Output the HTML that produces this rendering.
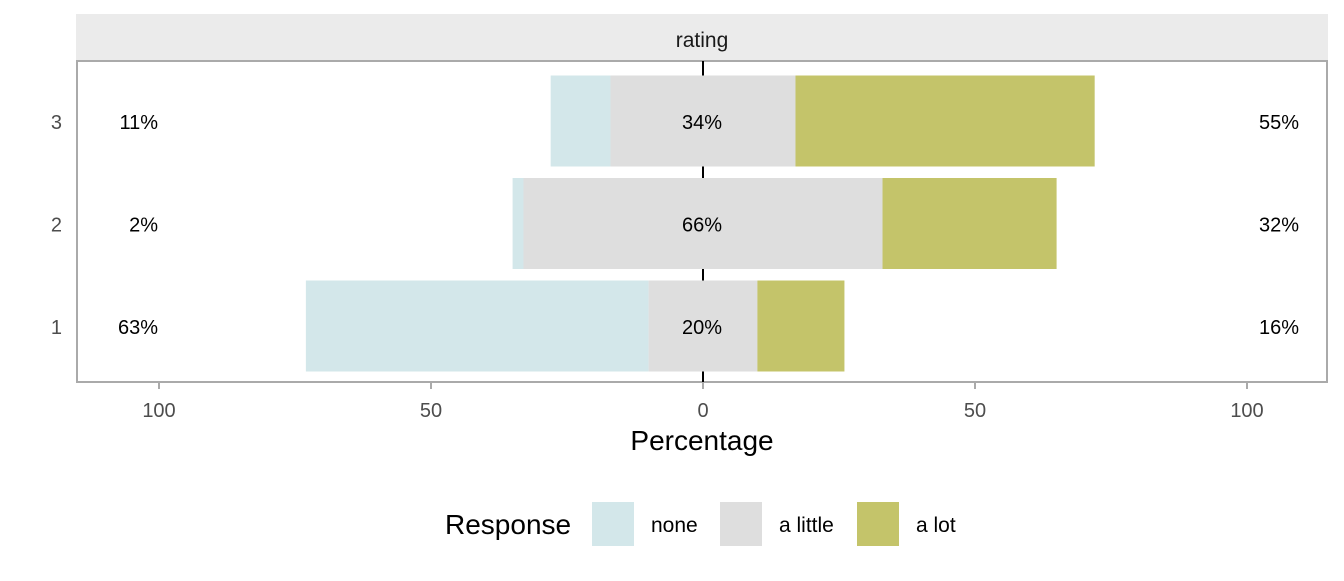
<!DOCTYPE html>
<html><head><meta charset="utf-8"><style>
body{margin:0;background:#fff;font-family:"Liberation Sans",sans-serif}
</style></head><body>
<svg width="1344" height="576" xmlns="http://www.w3.org/2000/svg" font-family="Liberation Sans, sans-serif">
<rect x="76" y="14" width="1252" height="46" fill="#ebebeb"/>
<text x="702" y="47" font-size="21" text-anchor="middle" fill="#1a1a1a">rating</text>
<rect x="77" y="61" width="1250" height="321" fill="#fff" stroke="#aaa" stroke-width="2"/>
<g id="bars"></g>
<g id="axis"></g>
<text x="702" y="450" font-size="28" text-anchor="middle" fill="#000">Percentage</text>
<g>
<text x="445" y="534" font-size="28" fill="#000">Response</text>
<rect x="592" y="502" width="42" height="44" fill="#d3e7ea"/>
<text x="651" y="532" font-size="21">none</text>
<rect x="720" y="502" width="42" height="44" fill="#dedede"/>
<text x="779" y="532" font-size="21">a little</text>
<rect x="857" y="502" width="42" height="44" fill="#c4c46a"/>
<text x="916" y="532" font-size="21">a lot</text>
</g>
</svg>
<script>
const categories=["1","2","3"];
const noneVals=[63,2,11];
const littleVals=[20,66,34];
const lotVals=[16,32,55];
const xTicks=[-100,-50,0,50,100];
const xTickLabels=["100","50","0","50","100"];
const NS="http://www.w3.org/2000/svg";
const x=v=>703+v*5.44;
const yc=i=>326-i*102.5;
const bars=document.getElementById('bars');
const axis=document.getElementById('axis');
function mk(tag,attrs,parent){const e=document.createElementNS(NS,tag);for(const k in attrs)e.setAttribute(k,attrs[k]);parent.appendChild(e);return e;}
const zl=mk('line',{x1:x(0),x2:x(0),y1:61,y2:382,stroke:'#000','stroke-width':2},bars);


categories.forEach((c,i)=>{
  const h=91,top=yc(i)-h/2,n=noneVals[i],l=littleVals[i],t=lotVals[i];
  const segs=[[-(n+l/2),-l/2,'#d3e7ea','none'],[-l/2,l/2,'#dedede','a-little'],[l/2,l/2+t,'#c4c46a','a-lot']];
  segs.forEach(s=>{
    const r=mk('rect',{x:x(s[0]),y:top,width:x(s[1])-x(s[0]),height:h,fill:s[2]},bars);
    
    
  });
  const lab=[[158,n+'%','left-pct','end'],[702,l+'%','center-pct','middle'],[1299,t+'%','right-pct','end']];
  lab.forEach(a=>{
    const tx=mk('text',{x:a[0],y:yc(i)+8,'font-size':20,'text-anchor':a[3],fill:'#000'},bars);
    tx.textContent=a[1];
    
    
  });
  const yl=mk('text',{x:62,y:yc(i)+8,'font-size':20,'text-anchor':'end',fill:'#4d4d4d'},axis);
  yl.textContent=c;
  
  
});
xTicks.forEach((v,i)=>{
  const tk=mk('line',{x1:x(v),x2:x(v),y1:382,y2:389,stroke:'#aaa','stroke-width':2},axis);
  
  
  const tl=mk('text',{x:x(v),y:417,'font-size':20,'text-anchor':'middle',fill:'#4d4d4d'},axis);
  tl.textContent=xTickLabels[i];
  
  
});
</script>
</body></html>
